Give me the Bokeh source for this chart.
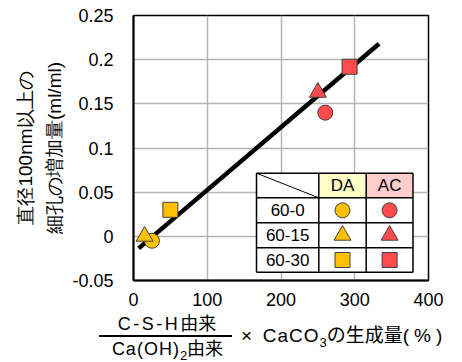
import math
from bokeh.plotting import figure
from bokeh.layouts import column
from bokeh.models import Range1d, FixedTicker, Div
from bokeh.embed import file_html
from bokeh.resources import INLINE
from bokeh.core.properties import value

# ---- data ----
series = ["DA", "AC"]
mix = ["60-0", "60-15", "60-30"]
markers = ["circle", "triangle", "square"]
da_x = [25, 15, 50]
da_y = [-0.005, 0.0, 0.030]
ac_x = [260, 250, 293]
ac_y = [0.140, 0.163, 0.192]
fit_x = [7, 333]
fit_y = [-0.0136, 0.218]
x_ticks = [0, 100, 200, 300, 400]
y_ticks = [-0.05, 0, 0.05, 0.1, 0.15, 0.2, 0.25]
y_title = "直径100nm以上の\n細孔の増加量(ml/ml)"

DA_COLOR = "#FFC000"
AC_COLOR = "#FF4B4B"

W, H = 454, 310
L, T, FW, FH = 133, 15, 295, 265
X0, X1, Y0, Y1 = 0, 400, -0.05, 0.25

p = figure(width=W, height=H, output_backend="svg", toolbar_location=None,
           x_range=Range1d(X0, X1), y_range=Range1d(Y0, Y1),
           min_border_left=L, min_border_right=W - L - FW,
           min_border_top=T, min_border_bottom=H - T - FH)

def dx(px):  # image pixel -> data x
    return X0 + (px - L) / FW * (X1 - X0)

def dy(py):
    return Y1 - (py - T) / FH * (Y1 - Y0)

p.outline_line_color = "black"
p.outline_line_width = 1.5
for ax in (p.xaxis, p.yaxis):
    ax.axis_line_color = "black"
    ax.axis_line_width = 2
    ax.major_tick_line_color = None
    ax.minor_tick_line_color = None
    ax.major_label_text_font = "Liberation Sans"
    ax.major_label_text_font_size = "18px"
    ax.major_label_text_color = "black"
p.xaxis.ticker = FixedTicker(ticks=x_ticks)
p.yaxis.ticker = FixedTicker(ticks=y_ticks)
p.xaxis.major_label_standoff = 6
p.yaxis.major_label_standoff = 14
p.yaxis.major_label_overrides = {-0.05: "-0.05", 0: "0", 0.05: "0.05", 0.1: "0.1",
                                 0.15: "0.15", 0.2: "0.2", 0.25: "0.25"}
p.yaxis.axis_label = y_title
p.yaxis.axis_label_text_font = "Liberation Sans"
p.yaxis.axis_label_text_font_style = "normal"
p.yaxis.axis_label_text_font_size = "19px"
p.yaxis.axis_label_text_line_height = 1.4
p.yaxis.axis_label_text_color = "black"
p.yaxis.axis_label_standoff = 4
p.grid.grid_line_color = "#b4b4b4"
p.grid.grid_line_width = 1.5
p.background_fill_color = "white"
p.border_fill_color = "white"

# fit line
p.line(fit_x, fit_y, line_color="black", line_width=4.5)

# points
for i in range(3):
    sz = 17 if markers[i] == "triangle" else 15
    p.scatter([da_x[i]], [da_y[i]], marker=markers[i], size=sz,
              fill_color=DA_COLOR, line_color="#404040", line_width=1)
    p.scatter([ac_x[i]], [ac_y[i]], marker=markers[i], size=sz,
              fill_color=AC_COLOR, line_color="#404040", line_width=1)

# ---- table legend ----
cx = [256, 318.3, 365.7, 412.5]
ry = [172.7, 197.3, 222.3, 247.3, 271.7]
p.quad(left=[dx(cx[0])], right=[dx(cx[3])], top=[dy(ry[0])], bottom=[dy(ry[4])],
       fill_color="white", line_color=None)
p.quad(left=[dx(cx[1])], right=[dx(cx[2])], top=[dy(ry[0])], bottom=[dy(ry[1])],
       fill_color="#FFFFC8", line_color=None)
p.quad(left=[dx(cx[2])], right=[dx(cx[3])], top=[dy(ry[0])], bottom=[dy(ry[1])],
       fill_color="#FFCCCC", line_color=None)
for yy in ry:
    p.segment(x0=[dx(cx[0])], x1=[dx(cx[3])], y0=[dy(yy)], y1=[dy(yy)], line_color="black", line_width=1.5)
for xx in cx:
    p.segment(x0=[dx(xx)], x1=[dx(xx)], y0=[dy(ry[0])], y1=[dy(ry[4])], line_color="black", line_width=1.5)
p.segment(x0=[dx(cx[0])], x1=[dx(cx[1])], y0=[dy(ry[0])], y1=[dy(ry[1])], line_color="black", line_width=1)

col_c = [(cx[1] + cx[2]) / 2, (cx[2] + cx[3]) / 2]
row_c = [(ry[i] + ry[i + 1]) / 2 for i in range(4)]
for j, s in enumerate(series):
    p.text([dx(col_c[j])], [dy(row_c[0])], text=[s], text_align="center", text_baseline="middle",
           text_font=value("Liberation Sans"), text_font_size="17px", text_color="black")
for i, m in enumerate(mix):
    p.text([dx((cx[0] + cx[1]) / 2)], [dy(row_c[i + 1])], text=[m], text_align="center",
           text_baseline="middle", text_font=value("Liberation Sans"), text_font_size="17px",
           text_color="black")
    for j, col in enumerate([DA_COLOR, AC_COLOR]):
        sz = 17 if markers[i] == "triangle" else 15
        p.scatter([dx(col_c[j])], [dy(row_c[i + 1])], marker=markers[i], size=sz,
                  fill_color=col, line_color="#404040", line_width=1)

# ---- x axis title (fraction) as HTML below the plot ----
FONT = "font-family:'Liberation Sans','Noto Sans CJK JP',sans-serif;color:#000;white-space:nowrap;"
html = f"""
<div style="position:relative;width:{W}px;height:52px;margin:0;padding:0;{FONT}">
  <div style="position:absolute;left:95px;width:144px;top:5px;text-align:center;font-size:18px;line-height:18px;">
    <span style="letter-spacing:2.5px;">C-S-H</span>由来</div>
  <div style="position:absolute;left:99px;width:133px;top:25px;height:2px;background:#000;"></div>
  <div style="position:absolute;left:95px;width:145px;top:30px;text-align:center;font-size:18px;line-height:18px;">
    <span style="letter-spacing:1px;">Ca(OH)</span><span style="position:relative;top:5px;font-size:13px;">2</span>由来</div>
  <div style="position:absolute;left:241px;top:16px;font-size:19px;line-height:19px;">
    ×&nbsp; <span style="letter-spacing:1px;">CaCO</span><span style="position:relative;top:5px;font-size:13px;">3</span>の生成量<span style="letter-spacing:5px;">(%)</span></div>
</div>
"""
div = Div(text=html, width=W, height=52, margin=0)

layout = column(p, div, spacing=0)
open("out.html", "w").write(file_html(layout, INLINE))
